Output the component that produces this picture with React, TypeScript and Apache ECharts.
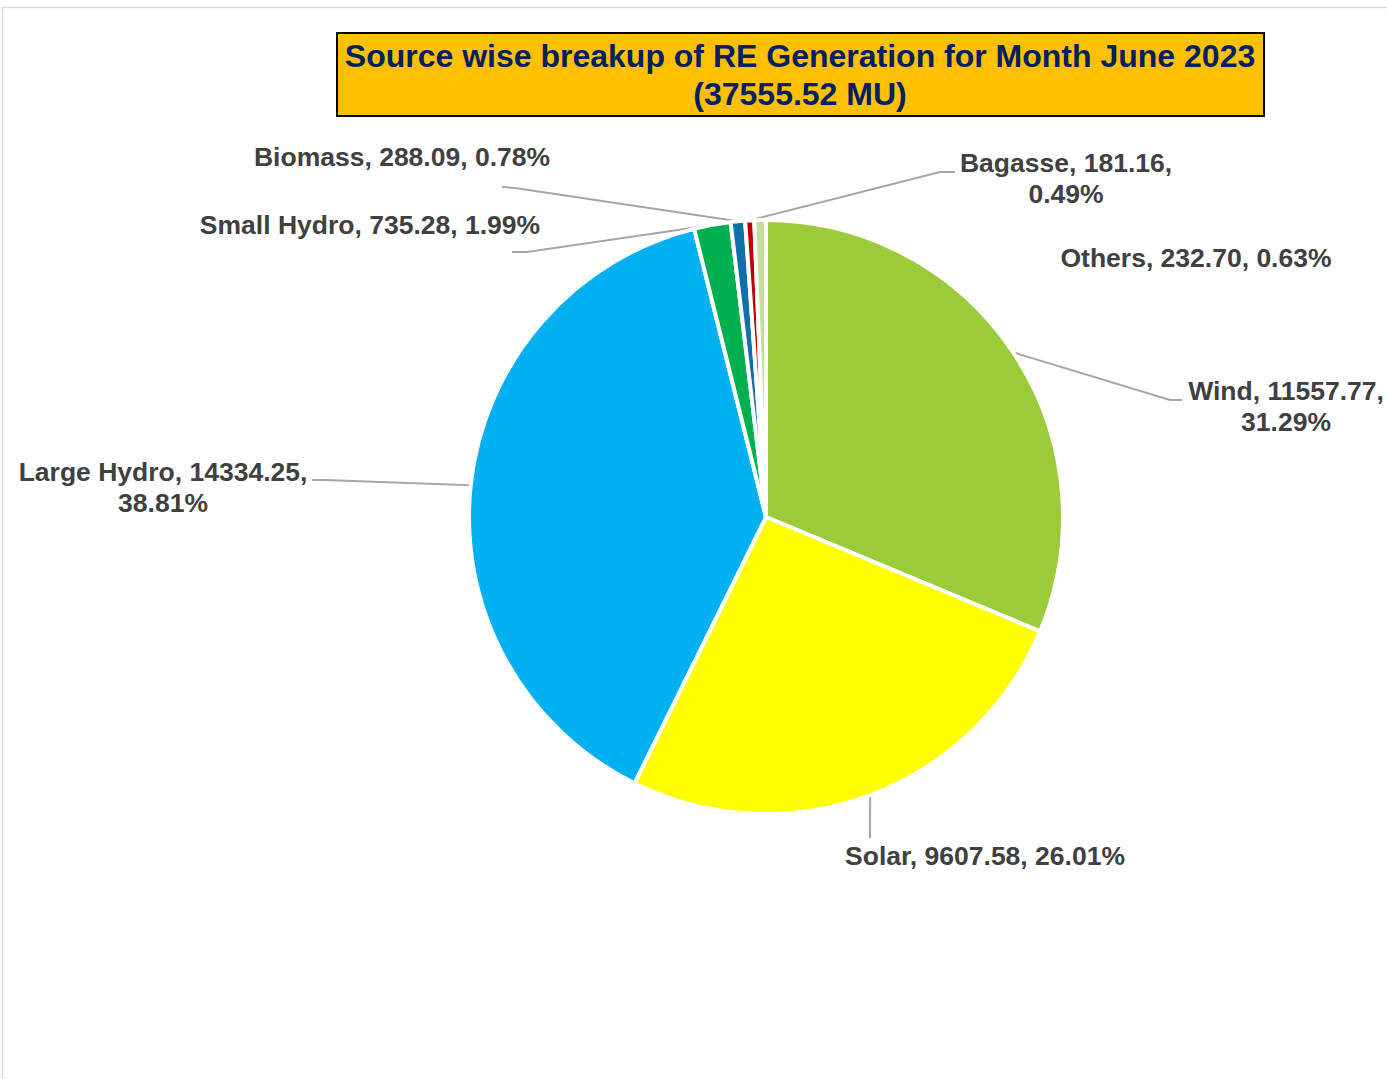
import React, { useEffect, useRef } from "react";
import * as echarts from "echarts";

const categories = ["Wind", "Solar", "Large Hydro", "Small Hydro", "Biomass", "Bagasse", "Others"];
const values = [11557.77, 9607.58, 14334.25, 735.28, 288.09, 181.16, 232.7];
const sliceColors = ["#9BCB3B", "#FFFF00", "#00B0F0", "#00B050", "#1170AA", "#C00000", "#C3DE98"];
const titleLines = ["Source wise breakup of RE Generation for Month June 2023", "(37555.52 MU)"];

// label placement (layout only)
const labelWrap = [true, false, true, false, false, true, false];
const labelPlacement: { x: number; y: number; pts?: number[][] }[] = [
  { x: 1286, y: 406, pts: [[1170, 400], [1182, 400]] },
  { x: 985, y: 856, pts: [[870, 838], [870, 838]] },
  { x: 163, y: 487, pts: [[325, 480], [312, 480]] },
  { x: 370, y: 225, pts: [[527, 252], [512, 252]] },
  { x: 402, y: 157, pts: [[515, 188], [502, 187]] },
  { x: 1066, y: 178, pts: [[940, 172], [955, 172]] },
  { x: 1196, y: 258 },
];

const FONT = "'Liberation Sans', Arial, sans-serif";

export default function App() {
  const ref = useRef<HTMLDivElement>(null);
  useEffect(() => {
    if (!ref.current) return;
    const chart = echarts.init(ref.current, null, { renderer: "svg" });
    const total = values.reduce((a, b) => a + b, 0);
    const data = categories.map((name, i) => ({
      name,
      value: values[i],
      itemStyle: { color: sliceColors[i] },
      labelLine: { show: !!labelPlacement[i].pts },
    }));
    chart.setOption({
      animation: false,
      backgroundColor: "#ffffff",
      graphic: [
        {
          type: "polyline",
          shape: { points: [[2.5, 1079], [2.5, 7.5], [1387, 7.5]] },
          style: { stroke: "#D9D9D9", lineWidth: 1.5, fill: "none" },
        },
        {
          type: "rect",
          shape: { x: 337, y: 33, width: 927, height: 83 },
          style: { fill: "#FFC000", stroke: "#000000", lineWidth: 2 },
        },
        {
          type: "text",
          x: 800,
          y: 75,
          style: {
            text: titleLines.join("\n"),
            align: "center",
            verticalAlign: "middle",
            fontSize: 32,
            fontWeight: "bold",
            fontFamily: FONT,
            fill: "#002060",
            lineHeight: 38,
          },
        },
      ],
      series: [
        {
          type: "pie",
          center: [766, 517],
          radius: 297,
          startAngle: 90,
          clockwise: true,
          avoidLabelOverlap: false,
          itemStyle: { borderColor: "#ffffff", borderWidth: 4 },
          label: {
            show: true,
            position: "outside",
            color: "#404040",
            fontSize: 26.5,
            fontWeight: "bold",
            fontFamily: FONT,
            lineHeight: 31,
            align: "center",
            formatter: (p: any) => {
              const i = p.dataIndex;
              const pct = ((values[i] / total) * 100).toFixed(2);
              return `${p.name}, ${values[i].toFixed(2)},${labelWrap[i] ? "\n" : " "}${pct}%`;
            },
          },
          labelLine: {
            show: true,
            lineStyle: { color: "#A6A6A6", width: 2 },
            length: 20,
            length2: 10,
          },
          labelLayout: (params: any) => {
            const lp = labelPlacement[params.dataIndex];
            const res: any = { x: lp.x, y: lp.y, align: "center", verticalAlign: "middle" };
            if (lp.pts && params.labelLinePoints) {
              res.labelLinePoints = [params.labelLinePoints[0], lp.pts[0], lp.pts[1]];
            }
            return res;
          },
          data,
        },
      ],
    });
    return () => chart.dispose();
  }, []);
  return (
    <div
      ref={ref}
      style={{ position: "absolute", left: 0, top: 0, width: 1387, height: 1079 }}
    />
  );
}
